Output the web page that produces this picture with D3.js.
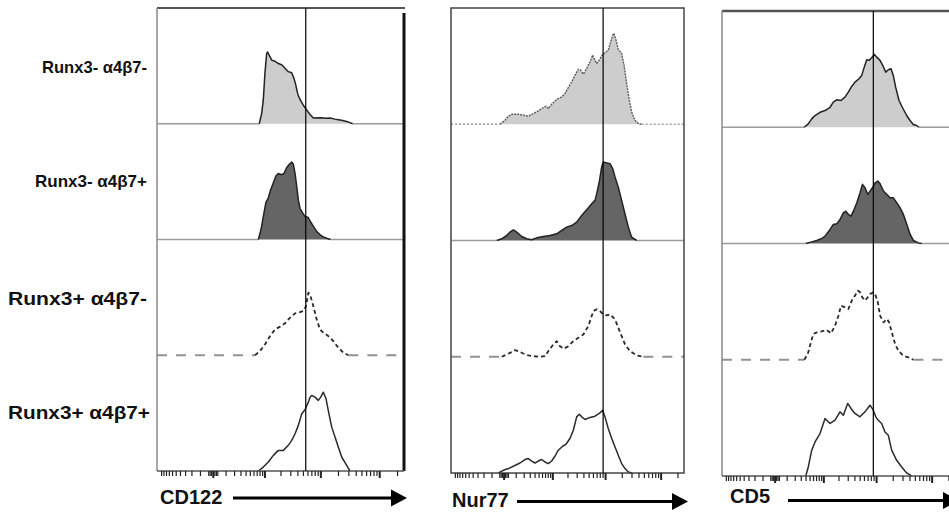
<!DOCTYPE html>
<html><head><meta charset="utf-8">
<script src="https://cdn.jsdelivr.net/npm/d3@7"></script>
<style>body{margin:0;background:#fff}svg{display:block;font-family:"Liberation Sans",Arial,sans-serif}</style>
</head><body><svg id="c" width="949" height="512"></svg>
<script>
// ---------- DATA ----------
const rowLabels = ["Runx3- α4β7-", "Runx3- α4β7+", "Runx3+ α4β7-", "Runx3+ α4β7+"];
const markers = ["CD122", "Nur77", "CD5"];
// gate (vertical reference line) position, fluorescence intensity
const gateValues = [5600, 9200, 8900];
// axis tick values (fluorescence intensity, biexponential-like axis)
const minorTicks = [-1000,-900,-800,-700,-600,-500,-400,-300,-200,-100,-30,-20,-10,10,20,30,
  100,200,300,400,500,600,700,800,900,2000,3000,4000,5000,6000,7000,8000,9000,
  20000,30000,40000,50000,60000,70000,80000,90000,200000];
const majorTicks = [0, 1000, 10000, 100000];
// histograms: [channel (0-256), % of max]
const cd122_r1 = [[106,0],[108.5,9],[110.2,21],[111.9,44],[113.7,61],[114.7,62],[116.4,59],[118.9,55],[122.3,54],[125.7,52],[129.2,51],[132.7,48],[136.1,45],[139.6,44],[142,39],[143.7,34],[145.8,26],[148.2,21],[151.6,16],[155.1,12],[158.6,8],[162,5],[170,5.2],[175,4.8],[179.3,5],[184.5,4],[187.9,3.5],[191.4,3],[196.6,2],[200,1],[202.8,0]];
const cd122_r2 = [[105,0],[107.8,8.6],[110.2,20],[112.9,32],[115.4,36],[117.8,43],[120.6,49],[123.4,55],[125.7,57],[129.2,56],[131.6,57],[134.3,62],[137.1,65],[139.6,67],[141.3,65],[143.1,57],[144.8,46],[146.5,34],[148.2,27],[150.9,23],[153.4,20],[156.8,19],[158.6,16],[162,11.5],[165.4,7],[168.8,4.3],[172.3,2.3],[175.8,1.1],[180,0]];
const cd122_r3 = [[101.6,0],[106.8,3.7],[112,9.5],[117.2,16.6],[122.4,22.4],[127.6,24.7],[132.7,27.6],[137.9,32.5],[143.1,36.2],[148.2,37.3],[151.7,38.2],[154.5,42.5],[156.9,54],[158.6,52.6],[162,42.5],[165.5,31],[168.9,22.4],[172.3,19.6],[177.5,16.6],[182.7,12.3],[187.9,6.6],[193.1,2.3],[198.3,0]];
const cd122_r4 = [[105,0],[110.2,3.4],[115.4,7.8],[120.6,13.5],[125.7,17.8],[130.9,17.8],[136.1,22.2],[139.6,26.5],[143.1,32.2],[146.5,39.4],[150,49.5],[153.4,52.9],[156.9,59.5],[158.6,63.8],[160.3,65.3],[163.8,63.8],[167.2,61],[169.7,63.8],[172.4,68.1],[175.2,62.4],[177.5,52.3],[181.1,37.9],[184.5,29.3],[187.9,20.7],[191.4,12.1],[196.6,4.9],[200,0]];
const nur77_r1 = [[53.8,0],[59.3,3.4],[63,6.9],[66.7,8.6],[73.9,8.6],[79.4,7.8],[84.9,6.9],[90.4,9.2],[95.9,11.5],[101.4,14.4],[104.4,15.5],[106.9,13.5],[110.6,17.2],[116.1,21.3],[121.6,23.5],[125.3,26.5],[128.9,31.6],[132.6,36.5],[136.2,42.2],[139.9,47.2],[142.5,46.5],[145.4,43.1],[149.1,48],[152.7,53.7],[155.7,59.5],[157.1,56.6],[160.1,52.3],[162.9,55.2],[166.2,59.5],[169.2,61.5],[172.8,63.8],[175.5,70.9],[177.7,76.7],[179.1,78.2],[181.3,72.4],[183.8,64.4],[187.5,60.9],[190.1,50.9],[193,35.1],[195.9,20.7],[198.5,10.6],[202.2,3.4],[205.8,0.6],[209.5,0]];
const nur77_r2 = [[50.2,0],[55.7,1.5],[61.2,4.3],[64.8,7.2],[68.5,9.2],[72.2,7.2],[77.7,3.4],[83.2,1.5],[88.7,0.6],[94.2,2.3],[101.5,3.4],[108.8,4.3],[116.1,5.8],[121.6,8.6],[127.1,11.5],[132.6,12.9],[138.1,15.8],[143.6,21.6],[149.1,26.5],[154.6,31.6],[158.2,34.5],[160.1,40.3],[162.9,50.3],[165.5,63.2],[167.3,67.5],[170.3,67],[174.7,66.1],[177.7,61.8],[180.2,54.6],[183.8,45.9],[187.5,34.5],[191.1,23],[194.8,11.5],[198.5,2.8],[204,0]];
const nur77_r3 = [[55.7,0],[61.2,2],[66.7,4],[70.3,5.7],[73.9,4.8],[79.4,2.8],[84.9,1.1],[90.4,0.5],[97.8,0],[103.2,0.5],[106.9,4.8],[112.4,10.6],[116.1,13.4],[119.7,9.1],[124.1,6.9],[128.9,9.1],[134.4,13.4],[139.9,16.4],[145.4,19.2],[150.9,26.4],[156.4,39.3],[160.1,40.8],[163.7,39.3],[167.3,36.5],[171.1,35.6],[174.7,36.5],[180.2,32.2],[183.8,25],[187.5,17.8],[191.2,10.6],[196.7,4.8],[204,1.1],[211.3,0]];
const nur77_r4 = [[52,0],[57.5,2.3],[63,3.8],[68.5,5.8],[75.8,8.6],[81.3,11.6],[84.9,12.4],[88.7,10.3],[92.3,8.6],[95.9,10.3],[99.6,11.6],[103.2,9.5],[106.9,8.1],[110.6,10.3],[114.2,14.4],[117.9,19.6],[122.7,23],[126.3,24.7],[130.7,29.7],[134.4,36.8],[138.1,48.3],[141,50.6],[143.6,48.3],[147.3,46],[152.7,47.8],[158.2,48.9],[162.9,51.2],[166.6,54],[169.2,48.3],[172.8,38.3],[176.6,29.7],[180.2,22.4],[183.8,15.3],[187.5,8.1],[191.2,3.8],[194.8,0.9],[198.5,0]];
const cd5_r1 = [[90.4,0],[94.8,2.9],[98.6,7.2],[102.2,10.1],[107.7,12.9],[113.2,14.4],[118.7,17.2],[122.3,21.6],[126,23.6],[130.7,23],[135.1,25.9],[138.8,30.2],[142.5,35.1],[146.1,38.8],[150.5,41.7],[153.5,44.6],[156.3,51.7],[159,58.1],[161.5,57.5],[164.5,59.8],[167.3,62.7],[170,60.3],[173.6,57.5],[177.2,52.3],[179.9,47.4],[182.7,49.5],[185.7,50.3],[188.2,44.6],[190.8,34.5],[194.5,23],[198.1,17.2],[202.9,10.1],[206.6,5.8],[210.2,2.3],[213.9,1.5],[216.4,0]];
const cd5_r2 = [[92,0],[98.6,1.4],[104.1,2.6],[109.6,4.3],[113.2,6.3],[118.7,12.1],[122.4,16.4],[126,16.9],[129.7,20.7],[133.3,26.4],[136,27.8],[138.8,25],[141.8,23.5],[144.4,27.8],[148.1,35],[151.7,43.6],[154.3,50.9],[157.2,47.9],[160.2,42.2],[162.7,45.1],[165.3,47.9],[168.2,52.2],[171.2,53.7],[173.7,51.4],[177.4,45.1],[181.1,42.2],[184.7,39.3],[188.3,39.3],[192.1,35],[195.7,30.7],[199.3,25],[203.1,16.4],[206.7,7.8],[210.3,2.6],[215.8,0.5],[219.6,0]];
const cd5_r3 = [[90.4,0],[94.2,4.9],[96.7,12.1],[100.3,22.2],[104.1,23.5],[109.6,24.4],[115.1,25.6],[119.8,22.7],[124.2,29.3],[127.9,37.9],[130.8,46.5],[135.2,45.1],[138.9,43.7],[142.6,50.9],[146.2,55.2],[149.2,59.5],[151.7,58],[154.2,53.7],[157.2,50.9],[160.1,53.7],[162.7,56.6],[166.3,58],[168.2,56.6],[171.2,49.4],[173.7,37.9],[177.4,32.2],[181.1,35.1],[183.6,32.2],[186.6,23.5],[190.2,13.5],[193.8,7.8],[199.3,3.4],[204.8,2],[210.3,0]];
const cd5_r4 = [[92,0],[94.8,7.8],[98.6,22.2],[102.2,29.3],[107.7,36.5],[113.2,49.5],[118.7,45.2],[124.2,48],[129.7,55.2],[133.3,52.3],[138.1,62.4],[142.5,57.2],[146.1,53.8],[151.6,50.9],[157.1,55.2],[162.6,60.9],[166.3,56.6],[168.9,50.9],[171.7,48],[175.4,45.2],[179.1,37.9],[182.7,35.1],[186.4,22.2],[191.9,13.5],[197.4,7.8],[202.9,2.6],[208.4,0]];
const histograms = [
  [cd122_r1, cd122_r2, cd122_r3, cd122_r4],
  [nur77_r1, nur77_r2, nur77_r3, nur77_r4],
  [cd5_r1, cd5_r2, cd5_r3, cd5_r4]
];

// ---------- LAYOUT ----------
const panels = [
  {x0:157, x1:404, top:8,  bottom:471, textX:3, textY:504, arrowX:76, arrowEnd:407, arrowY:498},
  {x0:451, x1:684, top:8,  bottom:473, textX:1, textY:507, arrowX:66, arrowEnd:688, arrowY:501.5},
  {x0:722, x1:955, top:11, bottom:476, textX:8, textY:503, arrowX:66, arrowEnd:959, arrowY:500.5}
];
const labelY = [73, 187, 305, 419];
const labelSize = [17, 17, 19, 19];
const labelStart = [42, 35, 8, 8];
const labelEnd = [147, 147, 147, 150];
const LIGHT = "#cdcdcd", DARK = "#656565";

const svg = d3.select("#c");

// row labels
svg.append("g").selectAll("text").data(rowLabels).join("text")
  .attr("x", (d,i)=>labelStart[i]).attr("y", (d,i)=>labelY[i])
  .attr("font-weight", "bold")
  .attr("font-size", (d,i)=>labelSize[i]).attr("fill", "#111")
  .attr("textLength", (d,i)=>labelEnd[i]-labelStart[i]).attr("lengthAdjust", "spacingAndGlyphs")
  .text(d=>d);

panels.forEach((p, pi) => {
  const g = svg.append("g");
  const xc = d3.scaleLinear().domain([0, 256]).range([p.x0, p.x1]);
  const xs = d3.scaleSymlog().constant(155).domain([-1200, 262144]).range([p.x0, p.x1]);
  const rowH = (p.bottom - p.top) / 4;
  const hy = d3.scaleLinear().domain([0, 100]).range([0, rowH]);

  histograms[pi].forEach((data, ri) => {
    const base = p.top + (ri + 1) * rowH;
    const first = data[0][0], last = data[data.length - 1][0];
    const line = d3.line().x(d=>xc(d[0])).y(d=>base - hy(d[1]));
    // baseline segments
    if (ri < 3) {
      let bstroke = "#9c9c9c", bdash = null, bw = 1.6;
      if (ri === 2) { bdash = "10,9"; bw = 1.8; bstroke = "#929292"; }
      if (pi === 1 && ri === 0) { bdash = "2,2"; bstroke = "#a0a0a0"; bw = 1.4; }
      [[0, first], [last, 256]].forEach(seg => {
        g.append("path").datum([[seg[0],0],[seg[1],0]]).attr("d", line)
          .attr("fill", "none").attr("stroke", bstroke).attr("stroke-width", bw)
          .attr("stroke-dasharray", bdash);
      });
    }
    if (ri < 2) {
      const area = d3.area().x(d=>xc(d[0])).y0(base).y1(d=>base - hy(d[1]));
      g.append("path").datum(data).attr("d", area).attr("fill", ri === 0 ? LIGHT : DARK);
      g.append("path").datum(data).attr("d", line).attr("fill", "none")
        .attr("stroke", (pi === 1 && ri === 0) ? "#5a5a5a" : "#222")
        .attr("stroke-width", (pi === 1 && ri === 0) ? 1.4 : 1.5)
        .attr("stroke-dasharray", (pi === 1 && ri === 0) ? "2,1" : null)
        .attr("stroke-linejoin", "round");
    } else {
      g.append("path").datum(data).attr("d", line).attr("fill", "none")
        .attr("stroke", "#2a2a2a").attr("stroke-width", ri === 2 ? 1.8 : 1.5)
        .attr("stroke-dasharray", ri === 2 ? "4,3" : null)
        .attr("stroke-linejoin", "round");
    }
  });

  // borders
  if (pi === 0) {
    g.append("line").attr("x1", p.x0).attr("x2", p.x1 + 1).attr("y1", p.top).attr("y2", p.top).attr("stroke", "#555").attr("stroke-width", 2);
    g.append("line").attr("x1", p.x0).attr("x2", p.x0).attr("y1", p.top).attr("y2", p.bottom).attr("stroke", "#8a8a8a").attr("stroke-width", 1.5);
    g.append("line").attr("x1", p.x1).attr("x2", p.x1).attr("y1", p.top + 5).attr("y2", p.bottom).attr("stroke", "#111").attr("stroke-width", 3);
    g.append("line").attr("x1", p.x0).attr("x2", p.x1).attr("y1", p.bottom).attr("y2", p.bottom).attr("stroke", "#555").attr("stroke-width", 1.5);
  } else if (pi === 1) {
    g.append("rect").attr("x", p.x0).attr("y", p.top).attr("width", p.x1 - p.x0).attr("height", p.bottom - p.top)
      .attr("fill", "none").attr("stroke", "#444").attr("stroke-width", 1.5);
  } else {
    g.append("line").attr("x1", p.x0).attr("x2", 949).attr("y1", p.top).attr("y2", p.top).attr("stroke", "#555").attr("stroke-width", 2.5);
    g.append("line").attr("x1", p.x0).attr("x2", p.x0).attr("y1", p.top).attr("y2", p.bottom).attr("stroke", "#8a8a8a").attr("stroke-width", 1.5);
    g.append("line").attr("x1", p.x0).attr("x2", 949).attr("y1", p.bottom).attr("y2", p.bottom).attr("stroke", "#555").attr("stroke-width", 1.5);
  }

  // gate line
  g.append("line").attr("x1", xs(gateValues[pi])).attr("x2", xs(gateValues[pi]))
    .attr("y1", p.top).attr("y2", p.bottom).attr("stroke", "#000").attr("stroke-width", 1.2);

  // axis ticks
  const ax1 = g.append("g").attr("transform", `translate(0,${p.bottom})`)
    .call(d3.axisBottom(xs).tickValues(minorTicks).tickSize(5).tickFormat(""));
  const ax2 = g.append("g").attr("transform", `translate(0,${p.bottom})`)
    .call(d3.axisBottom(xs).tickValues(majorTicks).tickSize(7).tickFormat(""));
  [ax1, ax2].forEach(a => { a.select(".domain").remove(); a.selectAll("line").attr("stroke", "#222").attr("stroke-width", 1.2); });
  ax2.selectAll("line").attr("stroke-width", 2);

  // marker label and arrow
  g.append("text").attr("x", p.x0 + p.textX).attr("y", p.textY)
    .attr("font-weight", "bold").attr("font-size", 20).attr("fill", "#111").text(markers[pi]);
  const ax = p.x0 + p.arrowX, ae = p.arrowEnd;
  g.append("line").attr("x1", ax).attr("x2", ae - 14).attr("y1", p.arrowY).attr("y2", p.arrowY)
    .attr("stroke", "#000").attr("stroke-width", 3);
  g.append("path").attr("d", `M${ae-16},${p.arrowY-8.5}L${ae},${p.arrowY}L${ae-16},${p.arrowY+8.5}Z`).attr("fill", "#000");
});
</script>
</body></html>
